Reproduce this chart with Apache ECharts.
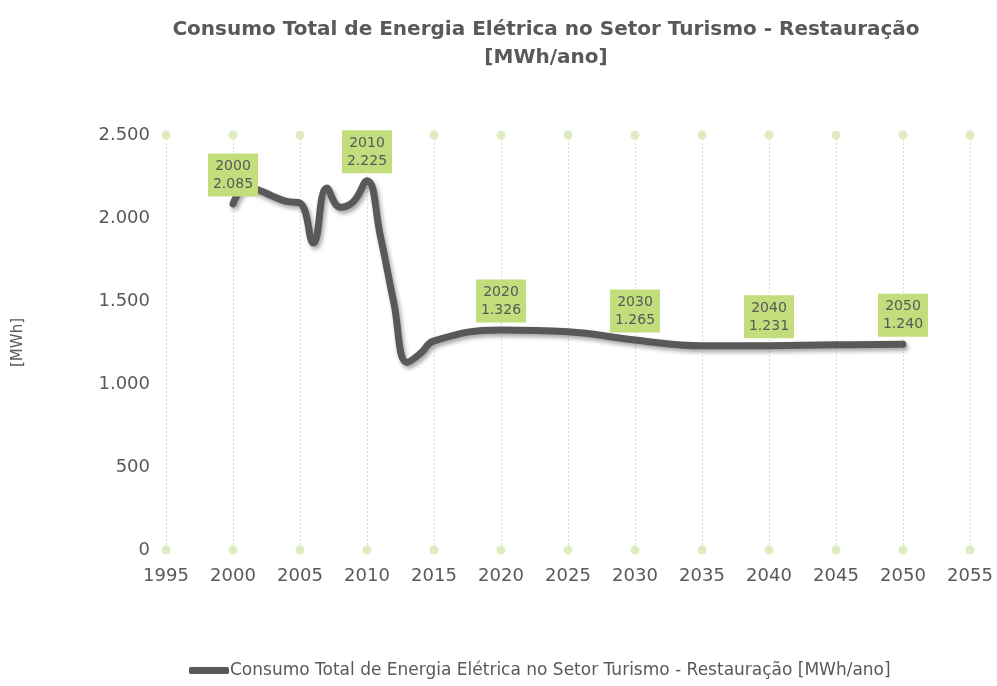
<!DOCTYPE html>
<html><head><meta charset="utf-8">
<script src="https://cdn.jsdelivr.net/npm/echarts@6/dist/echarts.min.js"></script>
<style>html,body{margin:0;padding:0;background:#fff}#c{width:997px;height:686px}</style>
</head><body><div id="c"></div>
<script>
const years = [2000,2001,2002,2003,2004,2005,2006,2007,2008,2009,2010,2011,2012,2013,2014,2015,2020,2025,2030,2035,2040,2045,2050];
const values = [2085,2185,2165,2130,2100,2090,1850,2180,2065,2100,2225,1890,1490,1130,1185,1260,1326,1315,1265,1230,1231,1236,1240];
const labelYears = [2000,2010,2020,2030,2040,2050];
const xTicks = [1995,2000,2005,2010,2015,2020,2025,2030,2035,2040,2045,2050,2055];
const yMin = 0, yMax = 2500, yStep = 500;
const seriesName = 'Consumo Total de Energia Elétrica no Setor Turismo - Restauração [MWh/ano]';

const font = '"DejaVu Sans", sans-serif';
const fmt = v => String(v).replace(/\B(?=(\d{3})+(?!\d))/g, '.');

const lineData = years.map((y,i) => {
  const item = {value:[y, values[i]]};
  if (labelYears.includes(y)) item.label = {show:true};
  return item;
});
const dots = [];
xTicks.forEach(x => { dots.push([x, yMin]); dots.push([x, yMax]); });

const chart = echarts.init(document.getElementById('c'));
chart.setOption({
  backgroundColor:'#fff',
  animation:false,
  title:{
    text:'Consumo Total de Energia Elétrica no Setor Turismo - Restauração\n[MWh/ano]',
    left:541, top:11, textAlign:'center',
    textStyle:{fontFamily:font, fontSize:20, fontWeight:'bold', color:'#595959', lineHeight:28}
  },
  legend:{
    data:[seriesName], bottom:2, left:184,
    itemWidth:40, itemHeight:7, icon:'roundRect', itemGap:0,
    itemStyle:{color:'#595959', opacity:1},
    textStyle:{fontFamily:font, fontSize:17, color:'#595959', padding:[0,0,0,-4]}
  },
  grid:{left:166, right:27, top:135, bottom:136, containLabel:false},
  xAxis:{
    type:'value', min:1995, max:2055, interval:5,
    axisLine:{show:false}, axisTick:{show:false},
    axisLabel:{fontFamily:font, fontSize:18, color:'#595959', margin:17, formatter:v=>String(v)},
    splitLine:{show:true, lineStyle:{color:'#d4e8ad', type:[2,2], width:1}}
  },
  yAxis:{
    type:'value', min:yMin, max:yMax, interval:yStep,
    name:'[MWh]', nameLocation:'middle', nameGap:140, nameRotate:90,
    nameTextStyle:{fontFamily:font, fontSize:15, color:'#595959'},
    axisLine:{show:false}, axisTick:{show:false},
    axisLabel:{fontFamily:font, fontSize:18, color:'#595959', margin:16, formatter:v=>fmt(v)},
    splitLine:{show:false}
  },
  series:[
    {
      type:'scatter', name:'grid-dots', data:dots, symbolSize:9, silent:true,
      itemStyle:{color:'#d6e9b2'}, z:1
    },
    {
      type:'line', name:seriesName, data:lineData, smooth:0.45, showSymbol:true, symbol:'circle', symbolSize:1,
      lineStyle:{color:'#595959', width:7, cap:'round', join:'round',
        shadowColor:'rgba(0,0,0,0.35)', shadowBlur:4, shadowOffsetX:2, shadowOffsetY:3},
      itemStyle:{color:'rgba(89,89,89,0)'},
      label:{
        show:false, position:'top', distance:7,
        formatter:p => p.value[0] + '\n' + fmt(p.value[1]),
        backgroundColor:'#c2dd7c', color:'#595959', fontFamily:font, fontSize:14, lineHeight:18,
        padding:[4,5,3,5], align:'center'
      },
      labelLayout:{hideOverlap:false},
      z:3
    }
  ]
});
</script></body></html>
